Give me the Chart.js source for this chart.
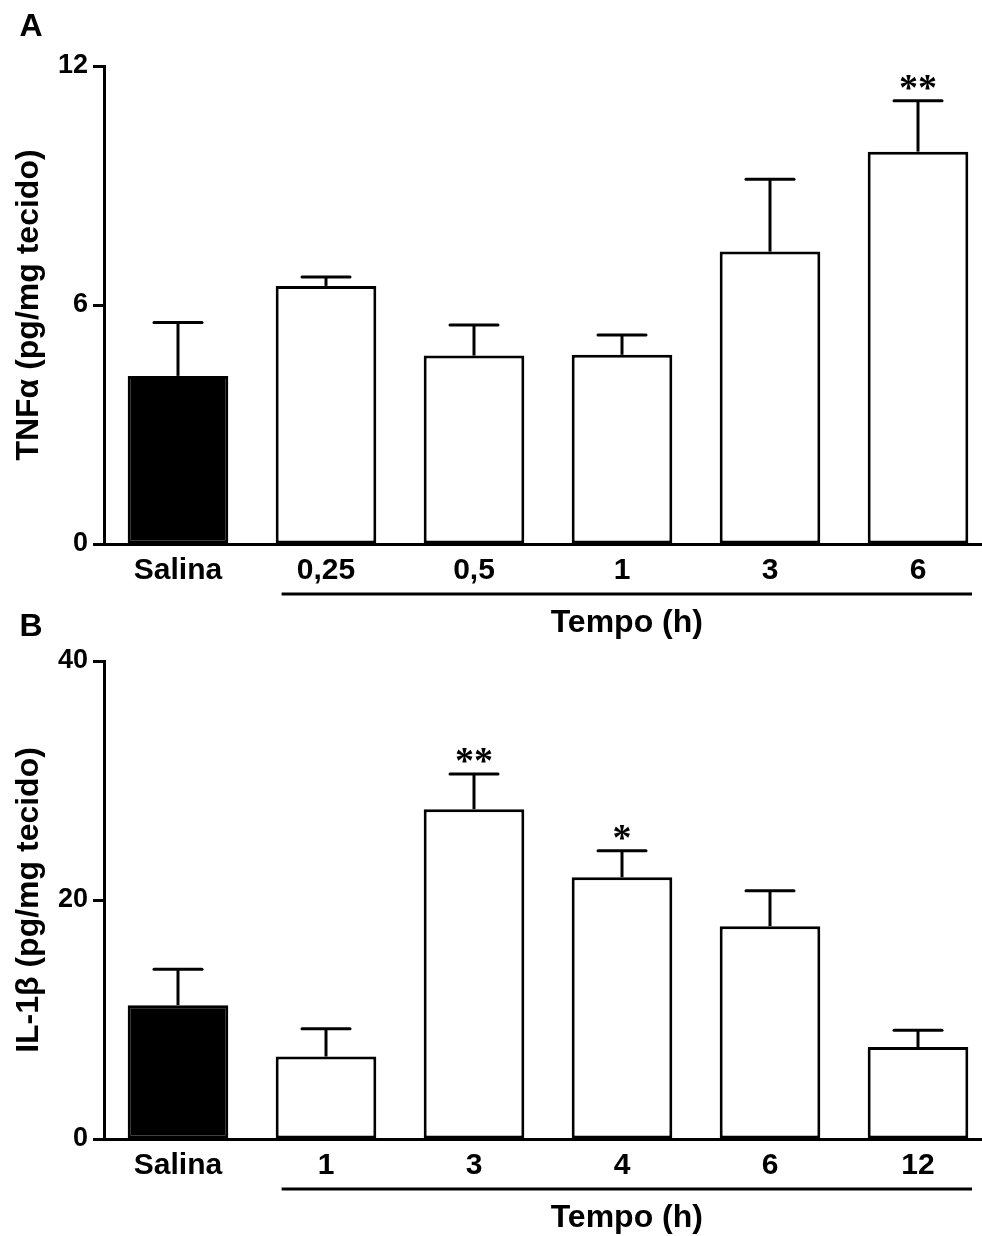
<!DOCTYPE html>
<html>
<head>
<meta charset="utf-8">
<script src="https://cdn.jsdelivr.net/npm/chart.js@4.4.1/dist/chart.umd.min.js"></script>
<style>
  html, body { margin: 0; padding: 0; background: #fff; overflow: hidden; }
  #wrap { position: relative; width: 982px; height: 1236px; overflow: hidden; }
  canvas { position: absolute; left: 0; }
</style>
</head>
<body>
<div id="wrap">
  <canvas id="graficoA" width="992" height="640" style="top:0px"></canvas>
  <canvas id="graficoB" width="992" height="636" style="top:600px"></canvas>
</div>
<script>
// painel A - TNF alfa
const categoriasA = ['Salina', '0,25', '0,5', '1', '3', '6'];
const mediasA = [4.22, 6.48, 4.73, 4.75, 7.34, 9.85];
const erroA = [1.34, 0.22, 0.77, 0.50, 1.82, 1.28];
const marcasA = ['', '', '', '', '', '**'];
const ticksA = [0, 6, 12];

// painel B - IL-1 beta
const categoriasB = ['Salina', '1', '3', '4', '6', '12'];
const mediasB = [11.2, 6.9, 27.6, 21.9, 17.8, 7.7];
const erroB = [3.0, 2.33, 2.94, 2.23, 2.98, 1.4];
const marcasB = ['', '', '**', '*', '', ''];
const ticksB = [0, 20, 40];

const FONTE = '"Liberation Sans", Arial, Helvetica, sans-serif';

const extras = {
  id: 'extras',
  afterDatasetsDraw(chart, args, opts) {
    const ctx = chart.ctx;
    const meta = chart.getDatasetMeta(0);
    const y = chart.scales.y;
    ctx.save();
    ctx.strokeStyle = '#000';
    ctx.lineWidth = 3;
    meta.data.forEach((bar, i) => {
      const topo = y.getPixelForValue(opts.medias[i]);
      const cap = y.getPixelForValue(opts.medias[i] + opts.erros[i]);
      ctx.lineCap = 'butt';
      ctx.beginPath();
      ctx.moveTo(bar.x, topo);
      ctx.lineTo(bar.x, cap);
      ctx.stroke();
      ctx.lineCap = 'round';
      ctx.beginPath();
      ctx.moveTo(bar.x - 24, cap);
      ctx.lineTo(bar.x + 24, cap);
      ctx.stroke();
      if (opts.marcas[i]) {
        ctx.fillStyle = '#000';
        ctx.font = 'bold 38px "Liberation Serif", "Times New Roman", serif';
        ctx.textAlign = 'center';
        ctx.textBaseline = 'alphabetic';
        ctx.fillText(opts.marcas[i], bar.x, cap - 1);
      }
    });
    ctx.restore();
  },
  afterDraw(chart, args, opts) {
    const ctx = chart.ctx;
    const area = chart.chartArea;
    const x = chart.scales.x;
    ctx.save();
    ctx.fillStyle = '#000';
    // letra do painel
    ctx.font = 'bold 32px ' + FONTE;
    ctx.textAlign = 'center';
    ctx.textBaseline = 'middle';
    ctx.fillText(opts.letra, 31, opts.letraY);
    // titulo do eixo y
    ctx.save();
    ctx.translate(29, (area.top + area.bottom) / 2);
    ctx.rotate(-Math.PI / 2);
    ctx.font = 'bold 32px ' + FONTE;
    ctx.fillText(opts.tituloY, 0, 0);
    ctx.restore();
    // linha do tempo
    const largura = x.getPixelForValue(1) - x.getPixelForValue(0);
    const ini = x.getPixelForValue(1) - largura * 0.3;
    const fim = x.getPixelForValue(5) + largura * 0.365;
    ctx.strokeStyle = '#000';
    ctx.lineWidth = 3;
    ctx.beginPath();
    ctx.moveTo(ini, area.bottom + 50);
    ctx.lineTo(fim, area.bottom + 50);
    ctx.stroke();
    ctx.font = 'bold 32px ' + FONTE;
    ctx.fillText('Tempo (h)', (ini + fim) / 2, area.bottom + 79);
    ctx.restore();
  }
};

function novoGrafico(id, categorias, medias, erros, marcas, ticks, letra, tituloY, topo, alturaEixoX) {
  const cores = categorias.map((c, i) => i === 0 ? '#000' : '#fff');
  return new Chart(document.getElementById(id), {
    type: 'bar',
    data: {
      labels: categorias,
      datasets: [{
        data: medias,
        backgroundColor: cores,
        borderColor: '#000',
        borderWidth: 3,
        borderSkipped: false,
        barPercentage: 0.68,
        categoryPercentage: 1
      }]
    },
    options: {
      responsive: false,
      animation: false,
      events: [],
      layout: { padding: { top: topo, left: 0, right: 0, bottom: 0 } },
      plugins: {
        legend: { display: false },
        tooltip: { enabled: false },
        extras: { medias: medias, erros: erros, marcas: marcas, letra: letra, letraY: 27, tituloY: tituloY }
      },
      scales: {
        x: {
          grid: { display: false, drawTicks: false },
          border: { display: true, color: '#000', width: 3 },
          ticks: { color: '#000', padding: 9, font: { family: FONTE, size: 30, weight: 'bold' } },
          afterFit(scale) { scale.height = alturaEixoX; }
        },
        y: {
          min: ticks[0],
          max: ticks[ticks.length - 1],
          ticks: { stepSize: ticks[1] - ticks[0], color: '#000', padding: 5, font: { family: FONTE, size: 27, weight: 'bold' } },
          grid: { drawOnChartArea: false, drawTicks: true, tickLength: 11, tickWidth: 3, tickColor: '#000', color: '#000' },
          border: { display: true, color: '#000', width: 3 },
          afterFit(scale) { scale.width = 104; }
        }
      }
    },
    plugins: [extras]
  });
}

novoGrafico('graficoA', categoriasA, mediasA, erroA, marcasA, ticksA, 'A', 'TNFα (pg/mg tecido)', 66, 96);
novoGrafico('graficoB', categoriasB, mediasB, erroB, marcasB, ticksB, 'B', 'IL-1β (pg/mg tecido)', 61, 97);
</script>
</body>
</html>
